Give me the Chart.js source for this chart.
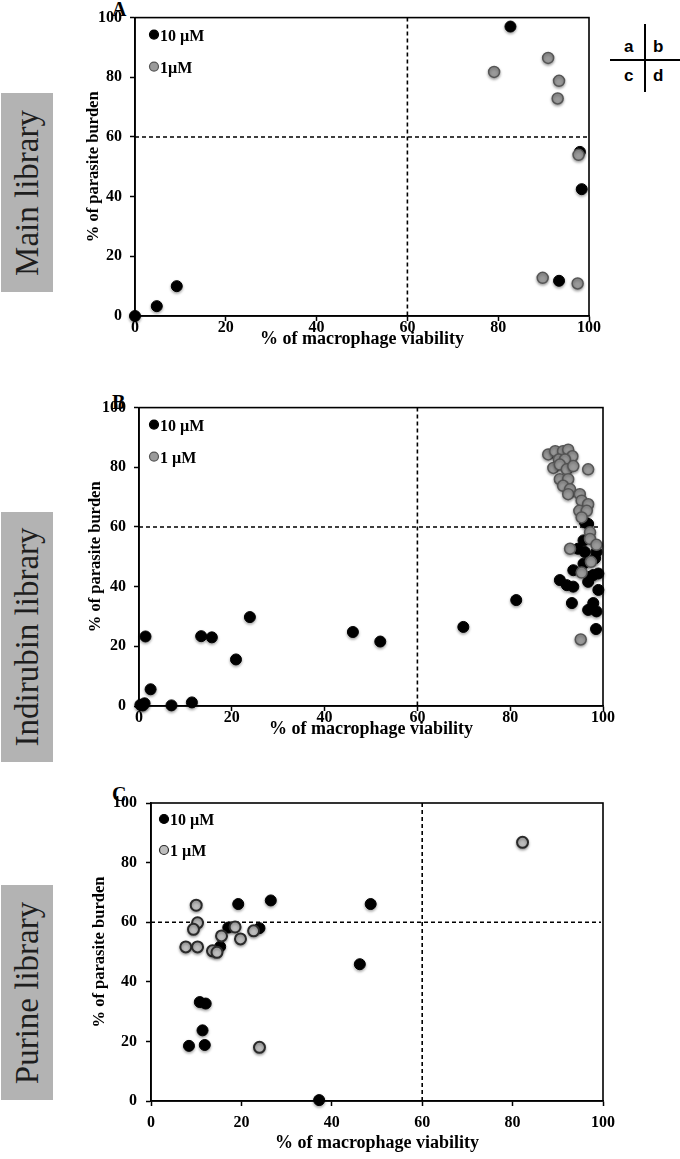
<!DOCTYPE html>
<html><head><meta charset="utf-8">
<script src="https://cdn.jsdelivr.net/npm/chart.js@4/dist/chart.umd.min.js"></script>
<style>
body{margin:0;background:#fff;width:680px;height:1159px;position:relative;overflow:hidden;font-family:"Liberation Serif",serif;}
.cv{position:absolute;left:0;width:680px;}
.side{position:absolute;left:1px;width:52px;background:#b3b3b3;}
.side span{position:absolute;left:50%;top:50%;transform:translate(-50%,-50%) rotate(-90deg);white-space:nowrap;font-size:33px;line-height:33px;color:#1e1e1e;}
.pl{position:absolute;left:112px;font-weight:bold;font-size:20px;line-height:20px;}
.q{position:absolute;font-family:"Liberation Sans",Arial,sans-serif;font-weight:bold;font-size:17px;line-height:17px;}
.ln{position:absolute;background:#000;}
</style>
</head><body>
<div class="side" style="top:93px;height:199px;"><span>Main library</span></div>
<div class="side" style="top:512px;height:250px;"><span>Indirubin library</span></div>
<div class="side" style="top:885px;height:215px;"><span>Purine library</span></div>
<div class="pl" style="top:-1px;">A</div>
<div class="pl" style="top:392px;">B</div>
<div class="pl" style="top:784px;">C</div>
<div class="ln" style="left:644px;top:24px;width:2px;height:68px;"></div>
<div class="ln" style="left:610px;top:59px;width:70px;height:2px;"></div>
<div class="q" style="left:624px;top:38px;">a</div>
<div class="q" style="left:653px;top:38px;">b</div>
<div class="q" style="left:624px;top:67px;">c</div>
<div class="q" style="left:653px;top:67px;">d</div>
<canvas id="cA" class="cv" style="top:0px;height:390px;" width="680" height="390"></canvas>
<canvas id="cB" class="cv" style="top:390px;height:390px;" width="680" height="390"></canvas>
<canvas id="cC" class="cv" style="top:780px;height:379px;" width="680" height="379"></canvas>
<script>
// ---- data ----
const xTicks = [0, 20, 40, 60, 80, 100];
const yTicks = [0, 20, 40, 60, 80, 100];
const threshold = 60;
const seriesNames = ["10 \u00b5M", "1 \u00b5M"];

// A: Main library
const mainX10 = [0, 4.8, 9.2, 82.7, 98.0, 98.4, 93.4];
const mainY10 = [0, 3.3, 10.0, 97.0, 55.0, 42.5, 11.8];
const mainX1  = [79.1, 91.0, 93.4, 93.1, 97.7, 89.8, 97.5];
const mainY1  = [81.8, 86.5, 78.8, 72.9, 54.0, 12.8, 10.9];

// B: Indirubin library
const indX10 = [0.3, 0.8, 1.2, 1.4, 2.5, 7.0, 11.4, 13.4, 15.7, 20.9, 23.9, 46.1, 52.0, 69.9, 81.3,
  96.1, 96.8, 95.8, 94.6, 96.1, 98.6, 95.8, 93.6, 97.9, 99.0, 90.7, 92.2, 93.6, 96.8, 99.0, 93.3, 97.9, 96.8, 98.6, 98.5, 97.2, 98.3];
const indY10 = [0.4, 0.2, 0.9, 23.3, 5.6, 0.2, 1.2, 23.4, 23.0, 15.6, 29.8, 24.8, 21.6, 26.5, 35.5,
  61.6, 61.0, 55.5, 52.7, 51.6, 51.6, 47.7, 45.5, 43.9, 44.4, 42.2, 40.5, 40.0, 41.6, 38.9, 34.5, 34.5, 32.2, 31.7, 25.8, 43.3, 49.5];
const indX1 = [88.2, 89.7, 91.4, 92.5, 93.4, 90.5, 91.8, 89.3, 90.7, 92.2, 93.6, 96.8, 90.7, 92.5, 91.4, 92.9, 92.5, 95.0,
  95.4, 96.8, 94.9, 96.5, 95.4, 97.2, 97.2, 98.6, 92.9, 97.4, 95.4, 95.2];
const indY1 = [84.3, 85.4, 85.4, 85.9, 83.7, 82.6, 82.6, 79.8, 80.9, 79.3, 80.4, 79.3, 76.0, 76.0, 73.8, 72.6, 71.0, 71.0,
  68.8, 67.6, 65.4, 65.4, 63.2, 58.2, 56.0, 54.0, 52.7, 48.3, 44.7, 22.3];

// C: Purine library
const purX10 = [19.3, 26.5, 48.6, 24.0, 17.1, 15.3, 46.2, 10.8, 12.1, 11.4, 8.4, 11.9, 37.2];
const purY10 = [66.1, 67.3, 66.1, 58.0, 58.2, 51.8, 45.9, 33.2, 32.7, 23.7, 18.5, 18.8, 0.3];
const purX1  = [10.0, 10.3, 9.4, 7.7, 10.3, 13.6, 14.6, 15.6, 18.6, 19.8, 22.7, 24.0, 82.2];
const purY1  = [65.7, 59.8, 57.6, 51.7, 51.7, 50.4, 49.9, 55.4, 58.4, 54.4, 57.1, 18.0, 86.8];

// ---- drawing ----
const pts = (xs, ys) => xs.map((x, i) => ({x, y: ys[i]}));
const FONT = '"Liberation Serif", "Times New Roman", serif';

const extras = {
  id: 'extras',
  beforeDatasetsDraw(chart) {
    const {ctx, chartArea: a, scales: {x, y}} = chart;
    ctx.save();
    ctx.strokeStyle = '#000'; ctx.lineWidth = 1.6; ctx.setLineDash([4, 3]);
    const px = x.getPixelForValue(threshold), py = y.getPixelForValue(threshold);
    ctx.beginPath();
    ctx.moveTo(px, a.top); ctx.lineTo(px, a.bottom);
    ctx.moveTo(a.left, py); ctx.lineTo(a.right - 2, py);
    ctx.stroke();
    ctx.restore();
    ctx.save();
    ctx.shadowColor = 'rgba(0,0,0,0.35)'; ctx.shadowBlur = 3; ctx.shadowOffsetY = 1.5;
  },
  afterDatasetsDraw(chart) {
    const {ctx, chartArea: a} = chart;
    ctx.restore();
    ctx.save();
    ctx.strokeStyle = '#000'; ctx.lineWidth = 1.6;
    ctx.strokeRect(a.left, a.top, a.right - a.left, a.bottom - a.top);
    const o = chart.options.plugins.extras;
    const ds = chart.data.datasets;
    const rows = [ds[1], ds[0]];
    rows.forEach((d, i) => {
      const cx = a.left + o.lx, cy = a.top + o.ly[i];
      ctx.beginPath(); ctx.arc(cx, cy, 4.5, 0, Math.PI * 2);
      ctx.fillStyle = d.backgroundColor; ctx.fill();
      ctx.lineWidth = 1.2; ctx.strokeStyle = d.borderColor; ctx.stroke();
      ctx.fillStyle = '#000'; ctx.font = 'bold 16px ' + FONT; ctx.textBaseline = 'middle';
      ctx.fillText(o.labels[i], cx + 6, cy + 2);
    });
    ctx.restore();
  }
};

function panel(id, x10, y10, x1, y1, L) {
  const tickFont = {family: FONT, size: 16, weight: 'bold'};
  new Chart(document.getElementById(id), {
    type: 'scatter',
    data: {datasets: [
      {label: seriesNames[1], data: pts(x1, y1), backgroundColor: L.grayFill, borderColor: L.grayBorder, borderWidth: L.grayBW, pointRadius: 5.5, clip: false},
      {label: seriesNames[0], data: pts(x10, y10), backgroundColor: '#000', borderColor: '#000', borderWidth: 1, pointRadius: 5.5, clip: false}
    ]},
    options: {
      responsive: false, animation: false, events: [],
      layout: {padding: {left: L.pl, right: L.pr, top: L.pt, bottom: L.pb}},
      plugins: {legend: {display: false}, tooltip: {enabled: false},
        extras: {lx: L.lx, ly: L.ly, labels: L.labels}},
      scales: {
        x: {type: 'linear', min: 0, max: 100,
          afterBuildTicks: s => { s.ticks = xTicks.map(v => ({value: v})); },
          afterFit: s => { s.height = L.xh; },
          grid: {drawOnChartArea: false, tickLength: 5, color: '#000', tickWidth: 1.5},
          border: {display: true, color: '#000', width: 1.6},
          ticks: {font: tickFont, color: '#000', padding: L.xtp, maxRotation: 0},
          title: {display: true, text: '% of macrophage viability', font: {family: FONT, size: 18, weight: 'bold'}, color: '#000', padding: 0}},
        y: {type: 'linear', min: 0, max: 100,
          afterBuildTicks: s => { s.ticks = yTicks.map(v => ({value: v})); },
          afterFit: s => { s.width = L.yw; },
          grid: {drawOnChartArea: false, tickLength: 5, color: '#000', tickWidth: 1.5},
          border: {display: true, color: '#000', width: 1.6},
          ticks: {font: tickFont, color: '#000', padding: L.ytp},
          title: {display: true, text: '% of parasite burden', font: {family: FONT, size: 16.5, weight: 'bold'}, color: '#000', padding: 0}}
      }
    },
    plugins: [extras]
  });
}

panel('cA', mainX10, mainY10, mainX1, mainY1,
  {pl: 84, pr: 91, pt: 17, pb: 40, xh: 34, yw: 51, xtp: -3, ytp: 8, lx: 19, ly: [17, 49],
   labels: ['10 \u00b5M', '1\u00b5M'], grayFill: '#9a9a9a', grayBorder: '#555', grayBW: 1.5});
panel('cB', indX10, indY10, indX1, indY1,
  {pl: 86, pr: 77, pt: 16, pb: 40, xh: 34, yw: 53, xtp: -3, ytp: 8, lx: 15, ly: [17, 49],
   labels: ['10 \u00b5M', '1 \u00b5M'], grayFill: '#9a9a9a', grayBorder: '#555', grayBW: 1.5});
panel('cC', purX10, purY10, purX1, purY1,
  {pl: 90, pr: 77, pt: 23, pb: 5, xh: 53, yw: 61, xtp: 7, ytp: 9, lx: 13, ly: [16, 47],
   labels: ['10 \u00b5M', '1 \u00b5M'], grayFill: '#bdbdbd', grayBorder: '#2a2a2a', grayBW: 2});
</script>
</body></html>
